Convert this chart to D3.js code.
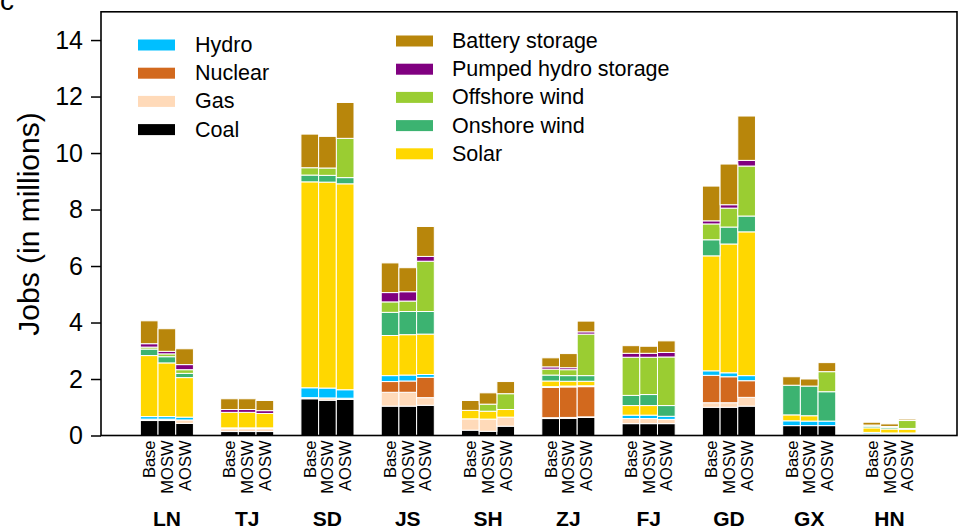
<!DOCTYPE html>
<html>
<head>
<meta charset="utf-8">
<script src="https://cdn.jsdelivr.net/npm/d3@7"></script>
<style>
  body { margin: 0; background: #fff; }
  svg { display: block; font-family: "Liberation Sans", Arial, Helvetica, sans-serif; }
</style>
</head>
<body>
<svg id="chart" width="962" height="529"></svg>
<script>
// Provinces and scenarios
const regions = ["LN", "TJ", "SD", "JS", "SH", "ZJ", "FJ", "GD", "GX", "HN"];
const scenarios = ["Base", "MOSW", "AOSW"];
const yTicks = [0, 2, 4, 6, 8, 10, 12, 14];

// Jobs (millions) per technology; each array runs region by region,
// three values per region in the order Base, MOSW, AOSW.
const coal = [
  0.53, 0.53, 0.43,   0.14, 0.14, 0.14,   1.30, 1.25, 1.28,   1.04, 1.04, 1.07,
  0.19, 0.15, 0.33,   0.60, 0.61, 0.64,   0.42, 0.42, 0.42,   1.00, 1.00, 1.04,
  0.35, 0.35, 0.35,   0.02, 0.02, 0.02
];
const gas = [
  0.05, 0.05, 0.12,   0.10, 0.10, 0.10,   0.04, 0.08, 0.04,   0.49, 0.49, 0.27,
  0.40, 0.43, 0.32,   0.03, 0.03, 0.02,   0.18, 0.18, 0.15,   0.16, 0.16, 0.31,
  0.00, 0.00, 0.00,   0.04, 0.03, 0.03
];
const nuclear = [
  0, 0, 0,            0, 0, 0,            0, 0, 0,            0.38, 0.40, 0.72,
  0, 0, 0,            1.07, 1.08, 1.07,   0, 0, 0,            0.97, 0.92, 0.59,
  0, 0, 0,            0, 0, 0
];
const hydro = [
  0.09, 0.09, 0.10,   0.03, 0.03, 0.03,   0.35, 0.35, 0.30,   0.21, 0.21, 0.10,
  0.00, 0.00, 0.00,   0.03, 0.03, 0.03,   0.12, 0.12, 0.11,   0.16, 0.14, 0.18,
  0.17, 0.16, 0.16,   0.05, 0.04, 0.04
];
const solar = [
  2.16, 1.90, 1.40,   0.55, 0.55, 0.51,   7.29, 7.29, 7.29,   1.42, 1.43, 1.43,
  0.30, 0.28, 0.27,   0.20, 0.17, 0.16,   0.34, 0.34, 0.00,   4.07, 4.56, 5.09,
  0.21, 0.19, 0.00,   0.16, 0.14, 0.13
];
const onshoreWind = [
  0.23, 0.22, 0.15,   0, 0, 0,            0.24, 0.24, 0.22,   0.82, 0.82, 0.80,
  0, 0, 0,            0.21, 0.20, 0.20,   0.36, 0.39, 0.38,   0.57, 0.60, 0.56,
  1.05, 1.05, 1.04,   0.06, 0.05, 0.03
];
const offshoreWind = [
  0.07, 0.10, 0.13,   0, 0, 0,            0.26, 0.26, 1.39,   0.37, 0.37, 1.78,
  0.00, 0.25, 0.56,   0.21, 0.21, 1.47,   1.35, 1.32, 1.72,   0.56, 0.67, 1.77,
  0.00, 0.00, 0.71,   0.04, 0.04, 0.28
];
const pumpedHydro = [
  0.12, 0.09, 0.18,   0.10, 0.10, 0.10,   0, 0, 0,            0.33, 0.33, 0.17,
  0, 0, 0,            0.08, 0.07, 0.08,   0.14, 0.14, 0.16,   0.11, 0.12, 0.20,
  0, 0, 0,            0, 0, 0
];
const batteryStorage = [
  0.81, 0.80, 0.56,   0.38, 0.38, 0.36,   1.19, 1.12, 1.27,   1.05, 0.85, 1.06,
  0.35, 0.40, 0.43,   0.32, 0.50, 0.38,   0.27, 0.25, 0.41,   1.23, 1.44, 1.57,
  0.30, 0.25, 0.32,   0.10, 0.09, 0.05
];

// Stack order (bottom to top) and colours
const seriesKeys = ["Coal", "Gas", "Nuclear", "Hydro", "Solar", "Onshore wind",
                    "Offshore wind", "Pumped hydro storage", "Battery storage"];
const seriesValues = [coal, gas, nuclear, hydro, solar, onshoreWind,
                      offshoreWind, pumpedHydro, batteryStorage];
const seriesColors = ["#000000", "#FFDAB9", "#D2691E", "#00BFFF", "#FFD700",
                      "#3CB371", "#9ACD32", "#800080", "#B8860B"];
const legendLeft = ["Hydro", "Nuclear", "Gas", "Coal"];
const legendRight = ["Battery storage", "Pumped hydro storage", "Offshore wind",
                     "Onshore wind", "Solar"];

const color = d3.scaleOrdinal().domain(seriesKeys).range(seriesColors);

// One row per bar
const rows = [];
regions.forEach((r, i) => {
  scenarios.forEach((s, j) => {
    const row = { region: r, scenario: s };
    seriesKeys.forEach((k, n) => { row[k] = seriesValues[n][i * 3 + j]; });
    rows.push(row);
  });
});

const svg = d3.select("#chart");
const plot = { left: 101, right: 957, top: 11.8, bottom: 435.5 };

const x0 = d3.scaleBand().domain(regions)
  .range([plot.left, plot.right])
  .paddingInner(0.339).paddingOuter(0.5).align(0.49);
const x1 = d3.scaleBand().domain(scenarios).range([0, x0.bandwidth()]);
const y = d3.scaleLinear().domain([0, 15]).range([plot.bottom, plot.top]);

const stacked = d3.stack().keys(seriesKeys)(rows);

// Bars
const layers = svg.append("g").selectAll("g")
  .data(stacked).join("g")
  .attr("fill", d => color(d.key));

layers.selectAll("rect")
  .data(d => d.filter(p => p[1] - p[0] > 0))
  .join("rect")
  .attr("x", d => x0(d.data.region) + x1(d.data.scenario))
  .attr("width", x1.bandwidth())
  .attr("y", d => y(d[1]))
  .attr("height", d => y(d[0]) - y(d[1]))
  .attr("stroke", "#ffffff")
  .attr("stroke-width", 1);

// Y axis
const yAxis = svg.append("g")
  .attr("transform", `translate(${plot.left},0)`)
  .call(d3.axisLeft(y).tickValues(yTicks).tickSize(10).tickPadding(8).tickFormat(d3.format("d")));
yAxis.select(".domain").remove();
yAxis.selectAll(".tick line").attr("stroke", "#000").attr("stroke-width", 1.5);
yAxis.selectAll(".tick text")
  .attr("font-size", 25)
  .attr("font-family", "'Liberation Sans', Arial, sans-serif")
  .attr("fill", "#000");

// Frame
svg.append("rect")
  .attr("x", plot.left).attr("y", plot.top)
  .attr("width", plot.right - plot.left).attr("height", plot.bottom - plot.top)
  .attr("fill", "none").attr("stroke", "#000").attr("stroke-width", 1.6);

// Y axis title
svg.append("text")
  .attr("transform", "translate(39,224) rotate(-90)")
  .attr("text-anchor", "middle")
  .attr("font-size", 30)
  .text("Jobs (in millions)");

// Scenario labels under every bar
const scenG = svg.append("g");
regions.forEach(r => {
  scenarios.forEach(s => {
    const cx = x0(r) + x1(s) + x1.bandwidth() / 2;
    scenG.append("text")
      .attr("transform", `translate(${cx + 6},${plot.bottom + 5}) rotate(-90)`)
      .attr("text-anchor", "end")
      .attr("font-size", 16.5)
      .text(s);
  });
});

// Region labels
svg.append("g").selectAll("text")
  .data(regions).join("text")
  .attr("x", d => x0(d) + x0.bandwidth() / 2)
  .attr("y", 526)
  .attr("text-anchor", "middle")
  .attr("font-family", "'Liberation Sans Narrow', 'Liberation Sans', Arial, sans-serif")
  .attr("font-weight", "bold")
  .attr("font-size", 21)
  .text(d => d);

// Legend
function legendColumn(items, sx, tx, y0, step) {
  const g = svg.append("g");
  items.forEach((k, i) => {
    const cy = y0 + i * step;
    g.append("rect")
      .attr("x", sx).attr("y", cy - 5.5)
      .attr("width", 37).attr("height", 11)
      .attr("fill", color(k));
    g.append("text")
      .attr("x", tx).attr("y", cy)
      .attr("dominant-baseline", "central")
      .attr("font-size", 21.5)
      .text(k);
  });
}
legendColumn(legendLeft, 138, 195, 45, 28.2);
legendColumn(legendRight, 396, 452, 41, 28.2);

// Panel letter
svg.append("text")
  .attr("x", 0).attr("y", 10)
  .attr("font-size", 28)
  .text("c");
</script>
</body>
</html>
